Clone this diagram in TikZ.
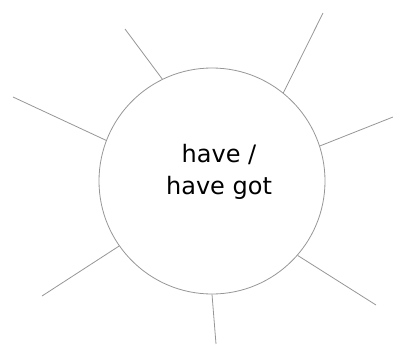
\documentclass[tikz,border=0pt]{standalone}
\usepackage{fontspec}
\usepackage{tikz}
\usetikzlibrary{positioning}
\newfontfamily\hubfont{DejaVu Sans}
\definecolor{rimcolor}{RGB}{150,150,150}

\begin{document}
\begin{tikzpicture}[
    x=1pt, y=-1pt,
    hub/.style={circle, draw=rimcolor, line width=0.8pt, minimum size=226pt, inner sep=0pt},
    word/.style={align=center, font=\hubfont\fontsize{24}{32}\selectfont},
    ray/.style={draw=rimcolor, line width=0.8pt}
]
\useasboundingbox (0,0) rectangle (393,345);
\node[hub] (hub) at (212,181) {};
\node[word] (title) at (219,172) {have /\\have got};

% outer ends of the rays
\coordinate (r1) at (125,29);
\coordinate (r2) at (323,13);
\coordinate (r3) at (13,97);
\coordinate (r4) at (393,117);
\coordinate (r5) at (42,296);
\coordinate (r6) at (376,305);
\coordinate (r7) at (216,344);

\foreach \a/\r in {116/r1,51/r2,159/r3,18/r4,215/r5,319/r6,270/r7}
    \draw[ray] (hub.\a) -- (\r);
\end{tikzpicture}
\end{document}
